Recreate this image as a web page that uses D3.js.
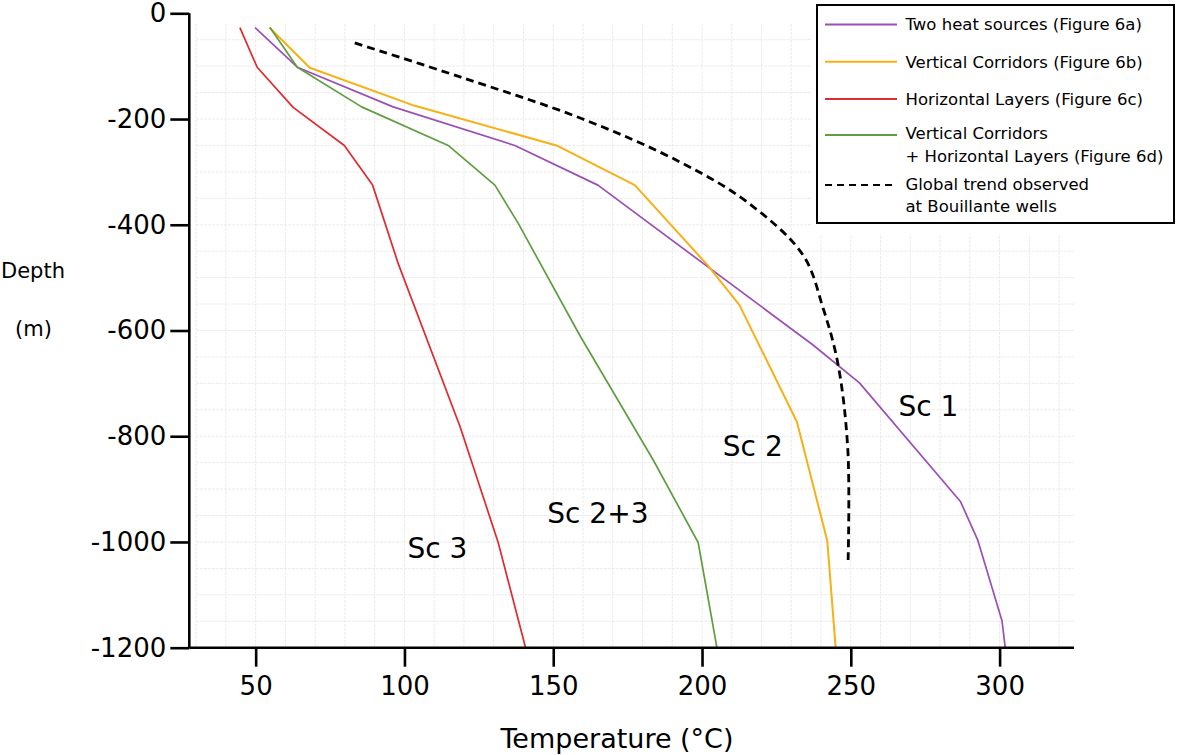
<!DOCTYPE html>
<html>
<head>
<meta charset="utf-8">
<script src="https://cdn.jsdelivr.net/npm/d3@7"></script>
<style>
  html, body { margin: 0; padding: 0; background: #fff; }
  svg { display: block; font-family: "DejaVu Sans", Verdana, sans-serif; }
</style>
</head>
<body>
<svg id="chart" width="1181" height="755"></svg>
<script>
// ---- data ----
const xTicks = [50, 100, 150, 200, 250, 300];
const yTicks = [0, -200, -400, -600, -800, -1000, -1200];

const sc1Temp  = [49.8, 64, 96.2, 137.1, 165, 237.2, 252.9, 286.9, 292.7, 300.8, 301.9];
const sc1Depth = [-27, -102, -177, -250, -325, -627, -699, -924, -997, -1149, -1200];

const sc2Temp  = [54.6, 68.2, 103.5, 151.1, 177.4, 201.8, 212.6, 231.9, 242.1, 244.9];
const sc2Depth = [-27, -103, -175, -250, -325, -476, -552, -773, -998, -1200];

const sc3Temp  = [44.7, 50.5, 62.6, 79.8, 89.3, 98, 118.7, 131.5, 140.7];
const sc3Depth = [-27, -102, -178, -250, -325, -475, -782, -1001, -1200];

const sc23Temp  = [54.8, 64, 85.6, 114.7, 130.4, 138.2, 158.9, 183.6, 198.7, 205];
const sc23Depth = [-27, -102, -177, -250, -325, -397, -609, -845, -1001, -1200];

const trendTemp  = [83.3, 119.6, 159.5, 192.5, 214.9, 233.9, 240.7, 245.7, 249, 249.1];
const trendDepth = [-56, -122, -199, -281, -356, -457, -558, -664, -826, -1034];

const legendLabels = [
  ["Two heat sources (Figure 6a)"],
  ["Vertical Corridors (Figure 6b)"],
  ["Horizontal Layers (Figure 6c)"],
  ["Vertical Corridors", "+ Horizontal Layers (Figure 6d)"],
  ["Global trend observed", "at Bouillante wells"]
];
const curveLabels = ["Sc 1", "Sc 2", "Sc 3", "Sc 2+3"];
const curveLabelT = [266, 207, 101, 148];
const curveLabelD = [-762, -838, -1030, -965];

// ---- layout ----
const svg = d3.select("#chart");
const x = d3.scaleLinear().domain([27.7, 325]).range([189.3, 1074]);
const y = d3.scaleLinear().domain([0, -1200]).range([13.3, 647.7]);

const colors = ["#9b4fb5", "#f7b015", "#e02a2e", "#5f9e3f", "#000"];

// grid
const grid = svg.append("g");
const gridT = d3.range(30, 325, 10);
const gridD = d3.range(-50, -1200, -50);
grid.selectAll("line.v").data(gridT).enter().append("line")
  .attr("x1", d => x(d)).attr("x2", d => x(d))
  .attr("y1", y(-20)).attr("y2", y(-1200))
  .attr("stroke", "#ebebeb").attr("stroke-width", 1).attr("stroke-dasharray", "3,1");
grid.selectAll("line.h").data(gridD).enter().append("line")
  .attr("x1", x(30)).attr("x2", x(325))
  .attr("y1", d => y(d)).attr("y2", d => y(d))
  .attr("stroke", "#ebebeb").attr("stroke-width", 1).attr("stroke-dasharray", "3,1");

// series
const series = [
  [sc1Temp, sc1Depth],
  [sc2Temp, sc2Depth],
  [sc3Temp, sc3Depth],
  [sc23Temp, sc23Depth]
];
const line = d3.line().x(d => x(d[0])).y(d => y(d[1]));
series.forEach((s, i) => {
  const pts = s[0].map((t, k) => [t, s[1][k]]);
  svg.append("path").attr("d", line(pts))
    .attr("fill", "none").attr("stroke", colors[i])
    .attr("stroke-width", i === 1 ? 2 : 1.7).attr("stroke-linejoin", "round");
});
const trendPts = trendTemp.map((t, k) => [t, trendDepth[k]]);
svg.append("path").attr("d", d3.line().curve(d3.curveCatmullRom).x(d => x(d[0])).y(d => y(d[1]))(trendPts))
  .attr("fill", "none").attr("stroke", "#000").attr("stroke-width", 2.8)
  .attr("stroke-dasharray", "8,5");

// axes
const fmt = d => String(d);
const yAxis = svg.append("g").attr("transform", `translate(${x(27.7)},0)`)
  .call(d3.axisLeft(y).tickValues(yTicks).tickSize(19).tickPadding(4).tickFormat(fmt));
const xAxis = svg.append("g").attr("transform", `translate(0,${y(-1200)})`)
  .call(d3.axisBottom(x).tickValues(xTicks).tickSize(19).tickPadding(10).tickFormat(fmt));
[yAxis, xAxis].forEach(a => {
  a.select(".domain").attr("stroke", "#000").attr("stroke-width", 2.6);
  a.selectAll(".tick line").attr("stroke", "#000").attr("stroke-width", 2.6);
  a.selectAll(".tick text").attr("fill", "#000").attr("font-family", "DejaVu Sans, Verdana, sans-serif");
});
yAxis.selectAll(".tick text").attr("font-size", 26);
xAxis.selectAll(".tick text").attr("font-size", 26);
yAxis.select(".domain").attr("d", `M0,${y(0)}V${y(-1200)}`);
xAxis.select(".domain").attr("d", `M${x(27.7)},0H${x(325)}`);

// axis titles
svg.append("text").attr("x", 1).attr("y", 278).attr("text-anchor", "start")
  .attr("font-size", 21).text("Depth");
svg.append("text").attr("x", 15).attr("y", 336).attr("text-anchor", "start")
  .attr("font-size", 21).text("(m)");
svg.append("text").attr("x", 617).attr("y", 748).attr("text-anchor", "middle")
  .attr("font-size", 27).text("Temperature (°C)");

// curve labels
curveLabels.forEach((l, i) => {
  svg.append("text").attr("x", x(curveLabelT[i])).attr("y", y(curveLabelD[i]))
    .attr("font-size", 28).text(l);
});

// legend
const lg = svg.append("g");
lg.append("rect").attr("x", 811).attr("y", 0).attr("width", 370).attr("height", 234).attr("fill", "#fff");
lg.append("rect").attr("x", 817).attr("y", 5).attr("width", 357).attr("height", 218)
  .attr("fill", "#fff").attr("stroke", "#000").attr("stroke-width", 2);
const rowY = [24.5, 61.7, 99, 135, 185];
const textY = [[30], [67.7], [105], [138.5, 161.7], [190, 211.7]];
legendLabels.forEach((lab, i) => {
  lg.append("line").attr("x1", 825).attr("x2", i === 4 ? 893 : 897).attr("y1", rowY[i]).attr("y2", rowY[i])
    .attr("stroke", colors[i]).attr("stroke-width", i === 4 ? 2.2 : 2)
    .attr("stroke-dasharray", i === 4 ? "7,5" : null);
  lab.forEach((t, k) => {
    lg.append("text").attr("x", 905.5).attr("y", textY[i][k]).attr("font-size", 16.5).text(t);
  });
});
</script>
</body>
</html>
